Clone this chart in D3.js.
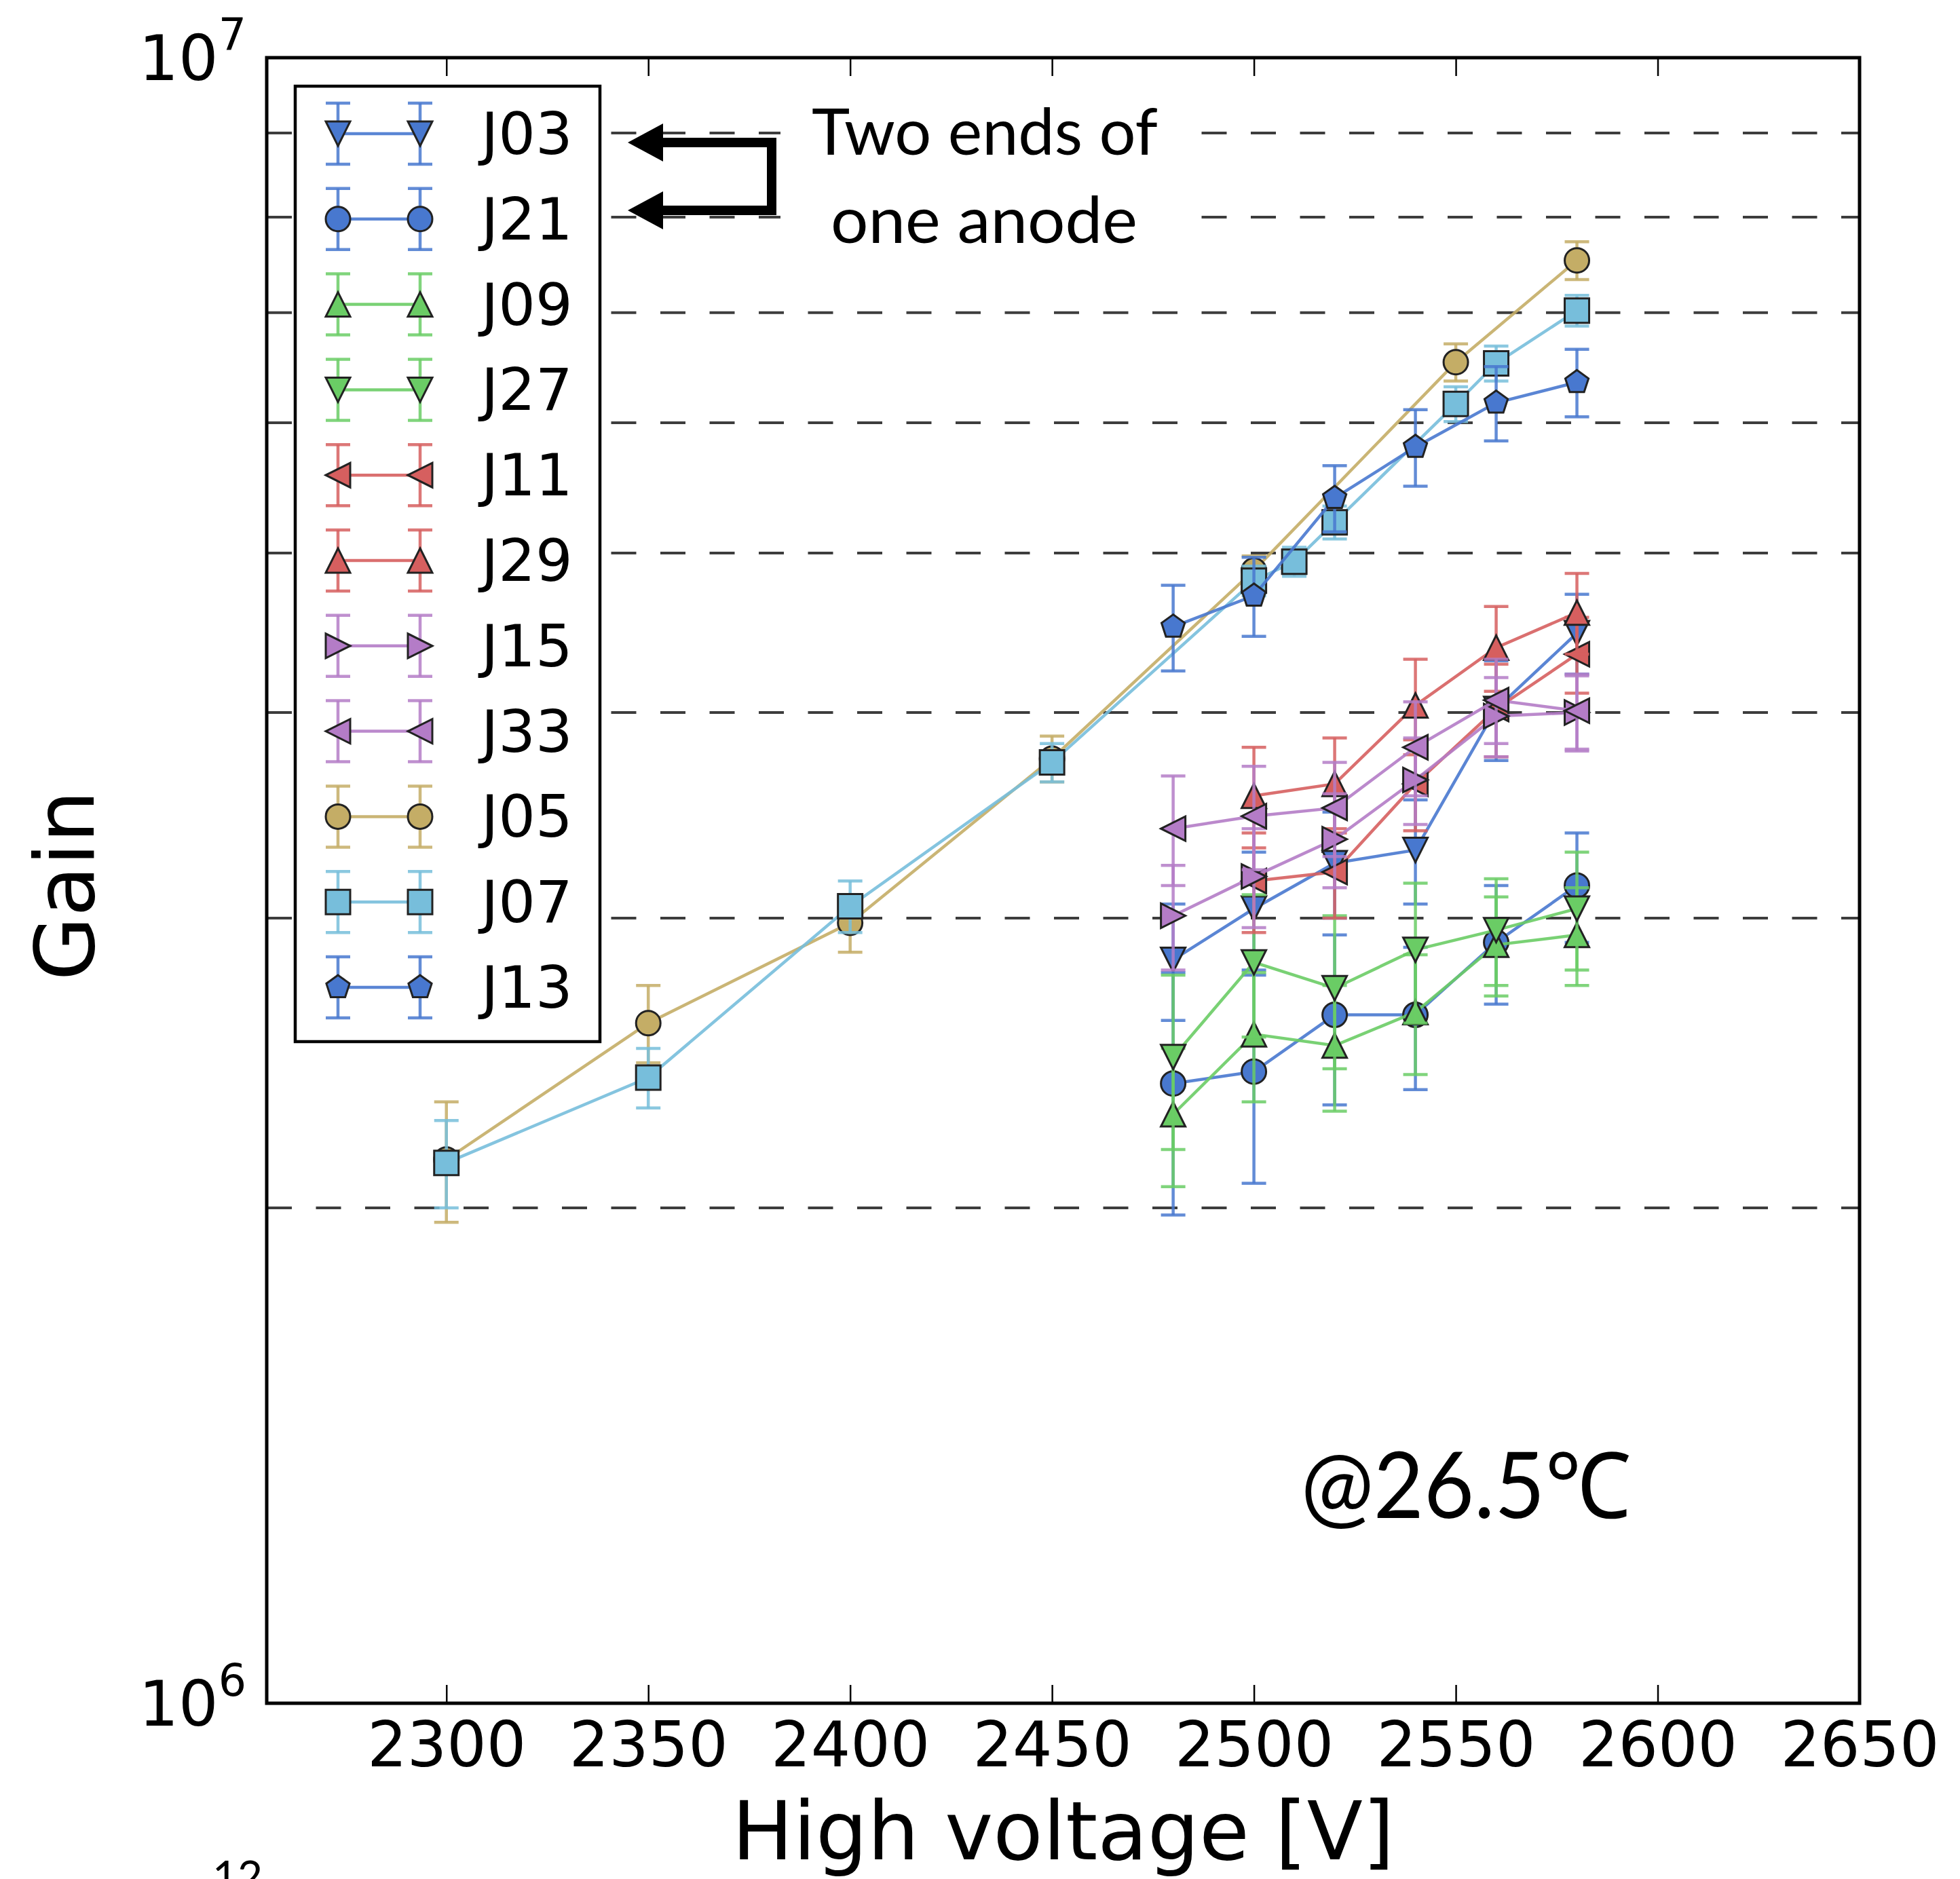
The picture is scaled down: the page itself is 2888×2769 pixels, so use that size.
<!DOCTYPE html>
<html>
<head>
<meta charset="utf-8">
<script src="https://cdn.jsdelivr.net/npm/d3@7"></script>
<style>
  body { margin: 0; background: #ffffff; }
  svg { display: block; }
</style>
</head>
<body>
<svg id="chart" width="2888" height="2769"></svg>
<script>
// ---------------- DATA (gain in units of 10^6) ----------------
const seriesNames = ["J03", "J21", "J09", "J27", "J11", "J29", "J15", "J33", "J05", "J07", "J13"];

const hv_J03 = [2480, 2500, 2520, 2540, 2560, 2580];
const gain_J03 = [2.83, 3.04, 3.24, 3.30, 4.02, 4.47];
const err_J03 = [0.23, 0.25, 0.24, 0.24, 0.28, 0.25];

const hv_J21 = [2480, 2500, 2520, 2540, 2560, 2580];
const gain_J21 = [2.38, 2.42, 2.62, 2.62, 2.90, 3.14];
const err_J21 = [0.40, 0.35, 0.31, 0.26, 0.24, 0.24];

const hv_J09 = [2480, 2500, 2520, 2540, 2560, 2580];
const gain_J09 = [2.28, 2.55, 2.51, 2.63, 2.89, 2.93];
const err_J09 = [0.22, 0.23, 0.22, 0.22, 0.20, 0.20];

const hv_J27 = [2480, 2500, 2520, 2540, 2560, 2580];
const gain_J27 = [2.47, 2.82, 2.72, 2.87, 2.95, 3.04];
const err_J27 = [0.30, 0.28, 0.29, 0.28, 0.22, 0.25];

const hv_J11 = [2500, 2520, 2540, 2560, 2580];
const gain_J11 = [3.16, 3.20, 3.62, 4.02, 4.34];
const err_J11 = [0.22, 0.20, 0.23, 0.26, 0.23];

const hv_J29 = [2500, 2520, 2540, 2560, 2580];
const gain_J29 = [3.56, 3.62, 4.04, 4.38, 4.60];
const err_J29 = [0.25, 0.24, 0.27, 0.26, 0.26];

const hv_J15 = [2480, 2500, 2520, 2540, 2560, 2580];
const gain_J15 = [3.01, 3.18, 3.35, 3.64, 3.98, 4.00];
const err_J15 = [0.22, 0.22, 0.22, 0.22, 0.22, 0.21];

const hv_J33 = [2480, 2500, 2520, 2540, 2560, 2580];
const gain_J33 = [3.40, 3.46, 3.50, 3.81, 4.07, 4.01];
const err_J33 = [0.26, 0.25, 0.23, 0.25, 0.24, 0.21];

const hv_J05 = [2300, 2350, 2400, 2450, 2500, 2550, 2580];
const gain_J05 = [2.14, 2.59, 2.98, 3.75, 4.88, 6.53, 7.53];
const err_J05 = [0.18, 0.14, 0.12, 0.12, 0.10, 0.17, 0.20];

const hv_J07 = [2300, 2350, 2400, 2450, 2500, 2510, 2520, 2550, 2560, 2580];
const gain_J07 = [2.13, 2.40, 3.05, 3.73, 4.81, 4.94, 5.22, 6.16, 6.52, 7.02];
const err_J07 = [0.13, 0.10, 0.11, 0.10, 0.10, 0.10, 0.12, 0.15, 0.16, 0.15];

const hv_J13 = [2480, 2500, 2520, 2540, 2560, 2580];
const gain_J13 = [4.51, 4.71, 5.40, 5.80, 6.17, 6.35];
const err_J13 = [0.27, 0.26, 0.25, 0.31, 0.32, 0.30];

const xTicks = [2300, 2350, 2400, 2450, 2500, 2550, 2600, 2650];
const yTickExponents = [6, 7];
const gridGains = [2, 3, 4, 5, 6, 7, 8, 9]; // x 10^6

// ---------------- STYLE ----------------
const seriesColors = ["#4878CF", "#4878CF", "#6ACC65", "#6ACC65", "#D65F5F", "#D65F5F",
                      "#B47CC7", "#B47CC7", "#C4AD66", "#77BEDB", "#4878CF"];
const seriesMarkers = ["v", "o", "^", "v", "<", "^", ">", "<", "o", "s", "p"];

const hvArrays = [hv_J03, hv_J21, hv_J09, hv_J27, hv_J11, hv_J29, hv_J15, hv_J33, hv_J05, hv_J07, hv_J13];
const gainArrays = [gain_J03, gain_J21, gain_J09, gain_J27, gain_J11, gain_J29, gain_J15, gain_J33, gain_J05, gain_J07, gain_J13];
const errArrays = [err_J03, err_J21, err_J09, err_J27, err_J11, err_J29, err_J15, err_J33, err_J05, err_J07, err_J13];

const UNIT = 1e6;
const series = seriesNames.map((name, i) => ({
  name,
  color: seriesColors[i],
  marker: seriesMarkers[i],
  points: hvArrays[i].map((v, j) => ({ hv: v, g: gainArrays[i][j] * UNIT, e: errArrays[i][j] * UNIT }))
}));

// ---------------- LAYOUT ----------------
const L = 393, R = 2740, T = 85, B = 2510;
const svg = d3.select("#chart");
svg.append("rect").attr("width", 2888).attr("height", 2769).attr("fill", "#fff");

const x = d3.scaleLinear().domain([2255.5, 2650]).range([L, R]);
const y = d3.scaleLog().domain([1e6, 1e7]).range([B, T]);

const MS = 36;          // marker size
const CAP = 18;         // half cap width
const LW = 4.5;         // line width
const EDGE = "#222222";

function markerPath(type, s) {
  const r = s / 2;
  switch (type) {
    case "o": return `M${r},0A${r},${r} 0 1,1 ${-r},0A${r},${r} 0 1,1 ${r},0Z`;
    case "s": return `M${-r},${-r}H${r}V${r}H${-r}Z`;
    case "^": return `M0,${-r}L${r},${r}L${-r},${r}Z`;
    case "v": return `M0,${r}L${r},${-r}L${-r},${-r}Z`;
    case "<": return `M${-r},0L${r},${-r}L${r},${r}Z`;
    case ">": return `M${r},0L${-r},${r}L${-r},${-r}Z`;
    case "p": {
      const pts = d3.range(5).map(k => {
        const a = Math.PI / 2 + 2 * Math.PI * k / 5;
        return [r * Math.cos(a), -r * Math.sin(a)];
      });
      return "M" + pts.map(p => p.join(",")).join("L") + "Z";
    }
  }
}

// ---------------- GRID LINES ----------------
const grid = svg.append("g");
grid.selectAll("line").data(gridGains).join("line")
  .attr("x1", L).attr("x2", R)
  .attr("y1", d => y(d * UNIT)).attr("y2", d => y(d * UNIT))
  .attr("stroke", "#3d3d3d").attr("stroke-width", 4)
  .attr("stroke-dasharray", "37,35.5");

// ---------------- ANNOTATION ----------------
svg.append("rect").attr("x", 1150).attr("y", 135).attr("width", 610).attr("height", 270).attr("fill", "#fff");
const ann = svg.append("g");
ann.append("path").attr("d", "M975,210H1137V310H975")
  .attr("fill", "none").attr("stroke", "#000").attr("stroke-width", 14).attr("stroke-linejoin", "miter");
ann.append("path").attr("d", "M925,210L977,182L977,238Z").attr("fill", "#000");
ann.append("path").attr("d", "M925,310L977,282L977,338Z").attr("fill", "#000");
ann.append("text").attr("x", 1451).attr("y", 228).attr("text-anchor", "middle")
  .attr("font-family", "Lato, 'Open Sans', sans-serif").attr("font-size", 95)
  .attr("textLength", 510).attr("lengthAdjust", "spacingAndGlyphs").text("Two ends of");
ann.append("text").attr("x", 1450).attr("y", 358).attr("text-anchor", "middle")
  .attr("font-family", "Lato, 'Open Sans', sans-serif").attr("font-size", 95)
  .attr("textLength", 452).attr("lengthAdjust", "spacingAndGlyphs").text("one anode");

svg.append("text").attr("x", 1917).attr("y", 2237)
  .attr("font-family", "Lato, 'Open Sans', sans-serif").attr("font-size", 135)
  .attr("textLength", 486).attr("lengthAdjust", "spacingAndGlyphs").text("@26.5℃");

// ---------------- DATA ----------------
const line = d3.line().x(d => x(d.hv)).y(d => y(d.g));
series.forEach(s => {
  const g = svg.append("g");
  const eb = g.append("g").attr("stroke", s.color).attr("stroke-width", LW).attr("stroke-opacity", 0.85);
  s.points.forEach(p => {
    const cx = x(p.hv), y1 = y(p.g + p.e), y0 = y(p.g - p.e);
    eb.append("line").attr("x1", cx).attr("x2", cx).attr("y1", y1).attr("y2", y0);
    eb.append("line").attr("x1", cx - CAP).attr("x2", cx + CAP).attr("y1", y1).attr("y2", y1);
    eb.append("line").attr("x1", cx - CAP).attr("x2", cx + CAP).attr("y1", y0).attr("y2", y0);
  });
  g.append("path").datum(s.points).attr("d", line)
    .attr("fill", "none").attr("stroke", s.color).attr("stroke-width", LW).attr("stroke-opacity", 0.9);
  g.selectAll("path.m").data(s.points).join("path").attr("class", "m")
    .attr("d", markerPath(s.marker, MS))
    .attr("transform", d => `translate(${x(d.hv)},${y(d.g)})`)
    .attr("fill", s.color).attr("stroke", EDGE).attr("stroke-width", 3);
});

// ---------------- LEGEND ----------------
const lg = svg.append("g");
lg.append("rect").attr("x", 435).attr("y", 127).attr("width", 449).attr("height", 1408)
  .attr("fill", "#fff").attr("stroke", "#000").attr("stroke-width", 4.5);
series.forEach((s, i) => {
  const cy = 197 + i * 125.8;
  const g = lg.append("g");
  [498, 619].forEach(cx => {
    const eb = g.append("g").attr("stroke", s.color).attr("stroke-width", LW).attr("stroke-opacity", 0.85);
    eb.append("line").attr("x1", cx).attr("x2", cx).attr("y1", cy - 45).attr("y2", cy + 45);
    eb.append("line").attr("x1", cx - CAP).attr("x2", cx + CAP).attr("y1", cy - 45).attr("y2", cy - 45);
    eb.append("line").attr("x1", cx - CAP).attr("x2", cx + CAP).attr("y1", cy + 45).attr("y2", cy + 45);
  });
  g.append("line").attr("x1", 498).attr("x2", 619).attr("y1", cy).attr("y2", cy)
    .attr("stroke", s.color).attr("stroke-width", LW).attr("stroke-opacity", 0.9);
  [498, 619].forEach(cx => {
    g.append("path").attr("d", markerPath(s.marker, MS))
      .attr("transform", `translate(${cx},${cy})`)
      .attr("fill", s.color).attr("stroke", EDGE).attr("stroke-width", 3);
  });
  g.append("text").attr("x", 709).attr("y", cy + 30)
    .attr("font-family", "'DejaVu Sans', sans-serif").attr("font-size", 86).text(s.name);
});

// ---------------- AXES ----------------
const xAxis = svg.append("g").attr("transform", `translate(0,${B})`)
  .call(d3.axisBottom(x).tickValues(xTicks).tickFormat(d3.format("d")).tickSizeInner(-27).tickSizeOuter(0).tickPadding(28));
xAxis.select(".domain").remove();
xAxis.selectAll(".tick line").attr("stroke", "#000").attr("stroke-width", 2.5);
xAxis.selectAll(".tick text").attr("font-family", "'DejaVu Sans', sans-serif").attr("font-size", 92).attr("fill", "#000");

const xAxisTop = svg.append("g").attr("transform", `translate(0,${T})`)
  .call(d3.axisTop(x).tickValues(xTicks).tickFormat("").tickSizeInner(-27).tickSizeOuter(0));
xAxisTop.select(".domain").remove();
xAxisTop.selectAll(".tick line").attr("stroke", "#000").attr("stroke-width", 2.5);

const yAxis = svg.append("g").attr("transform", `translate(${L},0)`)
  .call(d3.axisLeft(y).tickValues(yTickExponents.map(e => Math.pow(10, e))).tickSizeInner(0).tickSizeOuter(0).tickPadding(30));
yAxis.select(".domain").remove();
yAxis.selectAll(".tick text").each(function (d) {
  const t = d3.select(this);
  t.text(null).attr("dy", null).attr("y", 32).attr("x", -30)
    .attr("font-family", "'DejaVu Sans', sans-serif").attr("font-size", 92).attr("fill", "#000");
  t.append("tspan").text("10");
  t.append("tspan").attr("font-size", 65).attr("dy", -44).text(String(Math.round(Math.log10(d))));
});

// frame
svg.append("rect").attr("x", L).attr("y", T).attr("width", R - L).attr("height", B - T)
  .attr("fill", "none").attr("stroke", "#000").attr("stroke-width", 5);

// axis labels
svg.append("text").attr("x", (L + R) / 2).attr("y", 2740).attr("text-anchor", "middle")
  .attr("font-family", "'DejaVu Sans', sans-serif").attr("font-size", 120).text("High voltage [V]");
svg.append("text").attr("transform", "translate(138,1305) rotate(-90)").attr("text-anchor", "middle")
  .attr("font-family", "'DejaVu Sans', sans-serif").attr("font-size", 122).text("Gain");

// page number (partly cut off at the bottom edge, as in the reference)
svg.append("text").attr("x", 350).attr("y", 2788).attr("text-anchor", "middle")
  .attr("font-family", "Lato, 'Open Sans', sans-serif").attr("font-size", 64).text("12");
</script>
</body>
</html>
